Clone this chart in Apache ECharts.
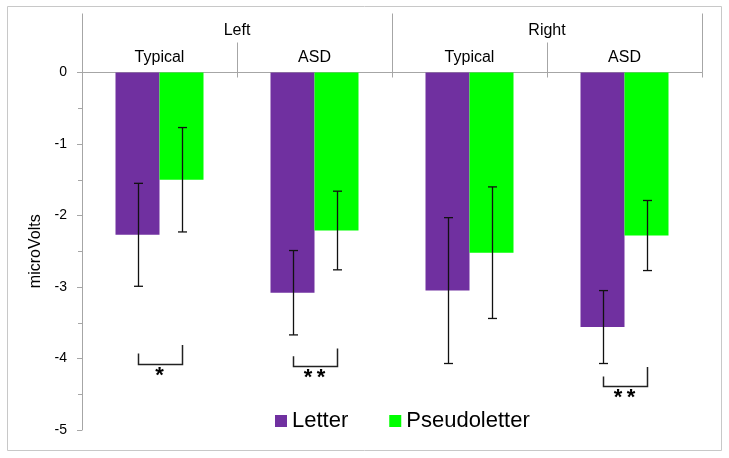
<!DOCTYPE html>
<html><head><meta charset="utf-8">
<script src="https://cdn.jsdelivr.net/npm/echarts@6/dist/echarts.min.js"></script>
<style>html,body{margin:0;padding:0;background:#fff}#c{width:729px;height:458px}</style>
</head><body><div id="c"></div>
<script>
// ---- data ----
const groups = ['Left', 'Right'];
const categories = ['Typical', 'ASD', 'Typical', 'ASD'];
const seriesNames = ['Letter', 'Pseudoletter'];
const letter = [-2.27, -3.08, -3.05, -3.56];
const pseudo = [-1.50, -2.21, -2.52, -2.28];
const letterErr = [0.72, 0.59, 1.02, 0.51];
const pseudoErr = [0.73, 0.55, 0.92, 0.49];
// significance brackets: category index, left arm top, right arm top, bottom, label
const bracketCat = [0, 1, 3];
const bracketLeftTop = [-3.93, -3.97, -4.25];
const bracketRightTop = [-3.81, -3.86, -4.12];
const bracketBottom = [-4.07, -4.10, -4.38];
const bracketLabel = ['*', '*\u2009*', '*\u2009*'];
const yTicks = [-5, -4, -3, -2, -1, 0];

// ---- chart ----
const FONT = '"Liberation Sans", Arial, sans-serif';
const BAR_W = 44;
const GRAY = '#a6a6a6';
const PURPLE = '#7030a0';
const GREEN = '#00ff00';

function errSeries(sign, vals, errs) {
  return {
    type: 'custom',
    xAxisIndex: 0,
    silent: true,
    z: 5,
    data: vals.map((v, i) => [i, v, errs[i]]),
    renderItem: function (params, api) {
      const i = api.value(0), v = api.value(1), e = api.value(2);
      const c = api.coord([i, v]);
      const x = Math.round(c[0] + sign * BAR_W / 2) + 0.5;
      const yt = api.coord([i, v + e])[1];
      const yb = api.coord([i, v - e])[1];
      const cap = 4.5;
      const st = { stroke: '#111', lineWidth: 1.3, fill: null };
      return {
        type: 'group',
        children: [
          { type: 'line', shape: { x1: x, y1: yt, x2: x, y2: yb }, style: st },
          { type: 'line', shape: { x1: x - cap, y1: yt, x2: x + cap, y2: yt }, style: st },
          { type: 'line', shape: { x1: x - cap, y1: yb, x2: x + cap, y2: yb }, style: st }
        ]
      };
    }
  };
}

const bracketSeries = {
  type: 'custom',
  xAxisIndex: 0,
  silent: true,
  z: 5,
  data: bracketCat.map((c, k) => [c, bracketLeftTop[k], bracketRightTop[k], bracketBottom[k]]),
  renderItem: function (params, api) {
    const i = api.value(0);
    const cx = api.coord([i, 0])[0];
    const xl = Math.round(cx - BAR_W / 2) + 0.5;
    const xr = Math.round(cx + BAR_W / 2) + 0.5;
    const ylt = api.coord([i, api.value(1)])[1];
    const yrt = api.coord([i, api.value(2)])[1];
    const yb = Math.round(api.coord([i, api.value(3)])[1]) + 0.5;
    return {
      type: 'group',
      children: [
        { type: 'polyline', shape: { points: [[xl, ylt], [xl, yb], [xr, yb], [xr, yrt]] },
          style: { stroke: '#222', lineWidth: 1.5, fill: null } },
        { type: 'text', style: { text: bracketLabel[params.dataIndex], x: cx, y: yb + 11,
          align: 'center', verticalAlign: 'middle', fill: '#000',
          font: 'bold 22px ' + FONT } }
      ]
    };
  }
};

const chart = echarts.init(document.getElementById('c'), null, { renderer: 'canvas' });
chart.setOption({
  animation: false,
  backgroundColor: '#fff',
  graphic: [{
    type: 'rect', shape: { x: 7.5, y: 6.5, width: 714, height: 444 },
    style: { stroke: '#c8c8c8', lineWidth: 1, fill: null }, silent: true
  }],
  grid: { left: 82, right: 27, top: 72.5, bottom: 28, containLabel: false },
  legend: {
    data: seriesNames, left: 275, top: 410, padding: 0, icon: 'rect', itemWidth: 12, itemHeight: 12,
    itemGap: 41, textStyle: { fontSize: 22, fontFamily: FONT, color: '#000' }
  },
  xAxis: [
    { type: 'category', position: 'top', data: categories,
      axisLine: { show: true, onZero: false, lineStyle: { color: GRAY, width: 1 } },
      axisTick: { show: true, alignWithLabel: false, length: 30, lineStyle: { color: GRAY } },
      axisLabel: { color: '#000', fontSize: 16, fontFamily: FONT, margin: 7 },
      splitLine: { show: false } },
    { type: 'category', position: 'top', data: categories,
      axisLine: { show: false, onZero: false },
      axisTick: { show: true, alignWithLabel: false, inside: true, length: 5, lineStyle: { color: GRAY } },
      axisLabel: { show: false }, splitLine: { show: false } },
    { type: 'category', position: 'top', data: groups,
      axisLine: { show: false, onZero: false },
      axisTick: { show: true, alignWithLabel: false, length: 59, lineStyle: { color: GRAY } },
      axisLabel: { color: '#000', fontSize: 16, fontFamily: FONT, margin: 34 },
      splitLine: { show: false } }
  ],
  yAxis: {
    type: 'value', min: yTicks[0], max: yTicks[yTicks.length - 1], interval: 1,
    name: 'microVolts', nameLocation: 'middle', nameGap: 30, nameRotate: 90,
    nameTextStyle: { fontSize: 16, fontFamily: FONT, color: '#000' },
    axisLine: { show: true, lineStyle: { color: GRAY } },
    axisTick: { show: true, length: 5, lineStyle: { color: GRAY } },
    minorTick: { show: true, splitNumber: 2, length: 4, lineStyle: { color: GRAY } },
    splitLine: { show: false },
    axisLabel: { fontSize: 14, fontFamily: FONT, color: '#000', margin: 15 }
  },
  series: [
    { name: seriesNames[0], type: 'bar', xAxisIndex: 0, data: letter, barWidth: BAR_W, barGap: '0%',
      itemStyle: { color: PURPLE } },
    { name: seriesNames[1], type: 'bar', xAxisIndex: 0, data: pseudo, barWidth: BAR_W, barGap: '0%',
      itemStyle: { color: GREEN } },
    errSeries(-1, letter, letterErr),
    errSeries(1, pseudo, pseudoErr),
    bracketSeries
  ]
});
</script>
</body></html>
